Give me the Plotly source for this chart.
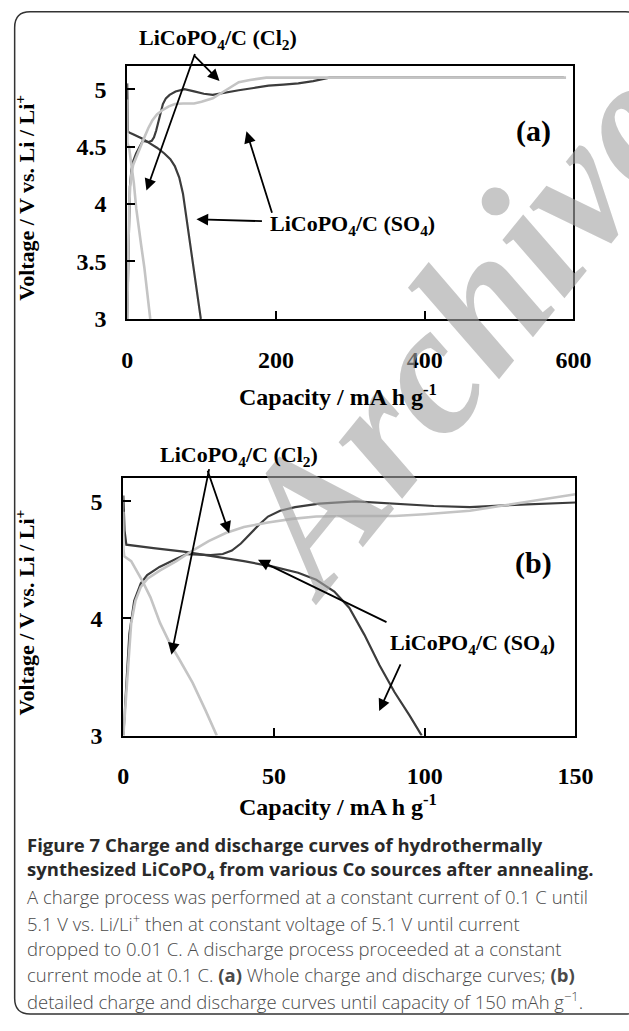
import plotly.graph_objects as go

# ---------------- data ----------------
so4_charge_cap = [0, 0.5, 1, 2, 3.6, 5.8, 7.9, 12, 17.6, 21, 25, 29, 33, 36, 39, 42, 45, 48, 52, 57,
                  65, 77, 90, 103, 115, 130, 150, 170, 190, 210, 230, 250, 262, 272, 285, 320, 400, 500, 587]
so4_charge_v = [3.0, 3.2, 3.45, 3.87, 4.15, 4.30, 4.37, 4.44, 4.51, 4.55, 4.545, 4.54, 4.55, 4.58, 4.64,
                4.72, 4.80, 4.87, 4.92, 4.95, 4.98, 5.0, 4.98, 4.96, 4.95, 4.97, 4.99, 5.01, 5.03, 5.04,
                5.05, 5.07, 5.09, 5.1, 5.1, 5.1, 5.1, 5.1, 5.1]

so4_dis_cap = [0, 0.4, 1, 5, 10, 20, 30, 40, 50, 58, 64, 70, 75, 80, 85, 90, 95, 99]
so4_dis_v = [5.05, 4.75, 4.63, 4.615, 4.60, 4.57, 4.53, 4.49, 4.44, 4.39, 4.33, 4.23, 4.09, 3.86,
             3.6, 3.37, 3.17, 3.0]

cl2_charge_cap = [0, 0.8, 1.5, 2.6, 4, 5.8, 8, 12.2, 17.6, 23, 28.3, 34, 40, 48, 56, 64, 75, 90, 100,
                  115, 125, 135, 145, 150, 165, 187, 200, 300, 400, 500, 590]
cl2_charge_v = [3.0, 3.3, 3.6, 3.96, 4.15, 4.27, 4.34, 4.41, 4.49, 4.58, 4.66, 4.73, 4.78, 4.82, 4.85,
                4.87, 4.875, 4.875, 4.89, 4.92, 4.96, 5.0, 5.04, 5.06, 5.08, 5.1, 5.1, 5.1, 5.1, 5.1, 5.1]

cl2_dis_cap = [0, 0, 0.3, 2.6, 6.3, 9, 12.2, 15.4, 18.6, 23, 27.2, 31]
cl2_dis_v = [4.91, 4.6, 4.53, 4.49, 4.32, 4.18, 3.96, 3.79, 3.65, 3.45, 3.22, 3.0]

xticks_a = [0, 200, 400, 600]
xticks_b = [0, 50, 100, 150]
yticks_a = [3, 3.5, 4, 4.5, 5]
yticks_b = [3, 4, 5]

caption_lines = [
    "<b>Figure 7 Charge and discharge curves of hydrothermally</b>",
    "<b>synthesized LiCoPO<sub>4</sub> from various Co sources after annealing.</b>",
    "A charge process was performed at a constant current of 0.1 C until",
    "5.1 V vs. Li/Li<sup>+</sup> then at constant voltage of 5.1 V until current",
    "dropped to 0.01 C. A discharge process proceeded at a constant",
    "current mode at 0.1 C. <b>(a)</b> Whole charge and discharge curves; <b>(b)</b>",
    "detailed charge and discharge curves until capacity of 150 mAh g<sup>\u22121</sup>.",
]

# ---------------- layout helpers ----------------
W, H = 629, 1031
def px(x):
    return x / W
def py(y):
    return 1 - y / H

DARK = "#3c3c3c"
LIGHT = "#c4c4c4"
SERIF = "Liberation Serif"

fig = go.Figure()

series = [
    (so4_charge_cap, so4_charge_v, DARK, 2.2),
    (so4_dis_cap, so4_dis_v, DARK, 2.2),
    (cl2_charge_cap, cl2_charge_v, LIGHT, 2.6),
    (cl2_dis_cap, cl2_dis_v, LIGHT, 2.6),
]
for xa, ya in [("x", "y"), ("x2", "y2")]:
    for cx, cy, col, w in series:
        fig.add_trace(go.Scatter(x=cx, y=cy, mode="lines", line=dict(color=col, width=w),
                                 xaxis=xa, yaxis=ya, showlegend=False, hoverinfo="skip"))

tickfont = dict(family=SERIF, size=24, color="black", weight="bold")
axis_common = dict(showline=True, linecolor="black", linewidth=2, mirror=True, ticks="inside",
                   ticklen=8, tickwidth=2, tickcolor="black", showgrid=False, zeroline=False,
                   tickfont=tickfont, fixedrange=True)

fig.update_layout(
    width=W, height=H, margin=dict(l=0, r=0, t=0, b=0),
    paper_bgcolor="white", plot_bgcolor="rgba(0,0,0,0)",
    xaxis=dict(domain=[px(126), px(590)], range=[0, 600], tickvals=xticks_a,
               anchor="y", ticklabelstandoff=18, **axis_common),
    yaxis=dict(domain=[py(323), py(67)], range=[3, 5.2], tickvals=yticks_a,
               ticktext=[str(v) for v in yticks_a], anchor="x", ticklabelstandoff=14, **axis_common),
    xaxis2=dict(domain=[px(122), px(592)], range=[0, 150], tickvals=xticks_b,
                anchor="y2", ticklabelstandoff=18, **axis_common),
    yaxis2=dict(domain=[py(745), py(484)], range=[3, 5.2], tickvals=yticks_b,
                anchor="x2", ticklabelstandoff=14, **axis_common),
)

ann = []
def text_ann(x, y, text, font, angle=0):
    return dict(x=px(x), y=py(y), xref="paper", yref="paper", showarrow=False, text=text,
                textangle=angle, font=font, xanchor="center", yanchor="middle")

# watermark
ann.append(text_ann(470, 335, "<b><i>Archive</i></b>",
                    dict(family=SERIF, size=185, color="rgba(165,165,165,0.62)"), -51))

lab = dict(family=SERIF, size=22, color="black")
# axis titles
for yc in [200, 620]:
    ann.append(text_ann(20, yc, "<b>Voltage / V vs. Li / Li<sup>+</sup></b>", lab, -90))
for yc in [400, 815]:
    ann.append(text_ann(345, yc, "<b>Capacity / mA h g<sup>-1</sup></b>",
                        dict(family=SERIF, size=24, color="black")))

# panel labels
ann.append(text_ann(548, 133, "<b>(a)</b>", dict(family=SERIF, size=30, color="black")))
ann.append(text_ann(548, 570, "<b>(b)</b>", dict(family=SERIF, size=30, color="black")))

# series labels
cl2 = "<b>LiCoPO<sub>4</sub>/C (Cl<sub>2</sub>)</b>"
so4 = "<b>LiCoPO<sub>4</sub>/C (SO<sub>4</sub>)</b>"
for (lx, ly, t) in [(220, 40, cl2), (360, 228, so4), (242, 462, cl2), (485, 652, so4)]:
    ann.append(text_ann(lx, ly, t, lab))

# arrows: (tail_x, tail_y, head_x, head_y) in pixels
arrows = [
    (195, 55, 222, 82), (195, 55, 146, 193),
    (265, 224, 198, 222), (276, 216, 250, 133),
    (210, 476, 232, 540), (210, 476, 172, 663),
    (392, 630, 262, 567), (410, 672, 388, 720),
]
for tx, ty, hx, hy in arrows:
    ann.append(dict(x=px(hx), y=py(hy), xref="paper", yref="paper", ax=tx - hx, ay=ty - hy,
                    showarrow=True, arrowhead=2, arrowsize=1.3, arrowwidth=1.8, arrowcolor="black",
                    text=""))

# caption
for i, line in enumerate(caption_lines):
    bold = i < 2
    f = dict(family="Open Sans", size=18.5, color="#2a2a2a" if bold else "#4a4a4a",
             weight=600 if bold else 300)
    ann.append(dict(x=px(20), y=py(855 + i * 26.3), xref="paper", yref="paper", showarrow=False,
                    xanchor="left", yanchor="middle", text=line, font=f, align="left"))

fig.update_layout(annotations=ann)

# rounded outer frame
x0, y0, x1, y1, r = px(9), py(12), px(660), py(1027), 16
rx, ry = r / W, r / H
path = (f"M {x0+rx} {y0} L {x1-rx} {y0} Q {x1} {y0} {x1} {y0-ry} L {x1} {y1+ry} Q {x1} {y1} {x1-rx} {y1} "
        f"L {x0+rx} {y1} Q {x0} {y1} {x0} {y1+ry} L {x0} {y0-ry} Q {x0} {y0} {x0+rx} {y0} Z")
fig.add_shape(type="path", path=path, xref="paper", yref="paper", line=dict(color="#333333", width=1.5),
              layer="below")

fig.write_html("out.html", config={"displayModeBar": False},
               post_script="document.body.style.margin='0px';document.body.style.overflow='hidden';")
